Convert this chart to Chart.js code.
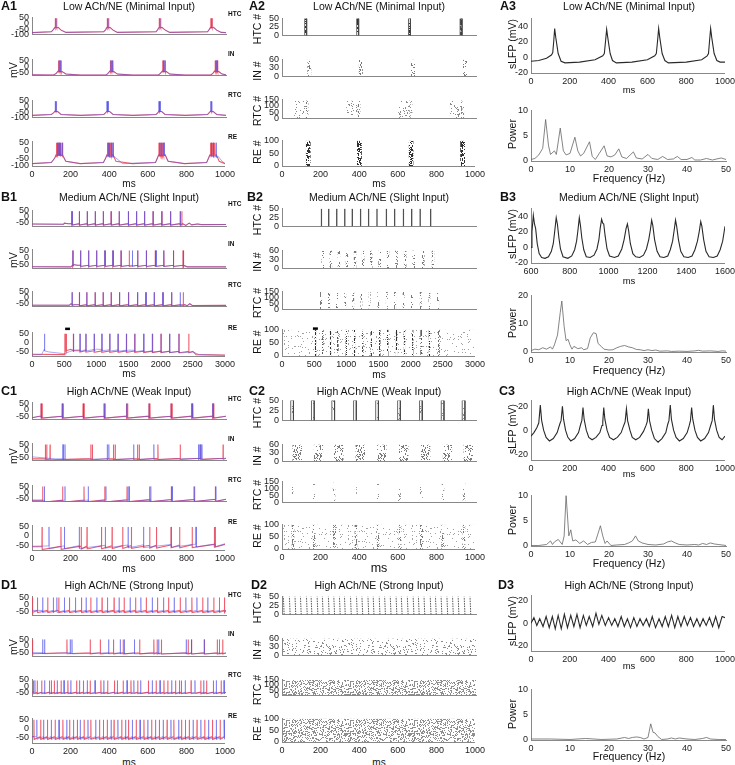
<!DOCTYPE html>
<html>
<head>
<meta charset="utf-8">
<script src="https://cdn.jsdelivr.net/npm/chart.js@4.4.1/dist/chart.umd.min.js"></script>
<style>
body { margin: 0; background: #fff; width: 735px; height: 765px; position: relative; overflow: hidden;
       font-family: "Liberation Sans", Arial, sans-serif; color: #111; }
canvas { position: absolute; }
.t { position: absolute; white-space: nowrap; transform: translate(-50%, -50%); }
.v { position: absolute; white-space: nowrap; transform: translate(-50%, -50%) rotate(-90deg); }
.p { position: absolute; white-space: nowrap; transform: translateY(-50%); font-weight: bold; font-size: 12.5px; }
.c { position: absolute; white-space: nowrap; transform: translateY(-50%); font-weight: bold; font-size: 6.5px; }
</style>
</head>
<body>
<script>
// ===== A: Low ACh/NE (Minimal Input) =====
const a1HtcBase = [[0,-82],[100,-74],[110,-55],[118,-35],[135,-35],[150,-60],[175,-80],[370,-74],[380,-55],[386,-35],[402,-35],[418,-60],[440,-80],[640,-74],[648,-55],[655,-35],[670,-35],[687,-60],[710,-80],[905,-74],[913,-55],[920,-35],[936,-35],[952,-60],[975,-80],[1000,-82]];
const a1HtcRed = [120, 127, 388, 395, 656, 663, 922, 929];
const a1HtcBlue = [123, 391, 659, 925];
const a1InBase = [[0,-66],[110,-68],[125,-55],[135,-35],[155,-40],[175,-60],[250,-68],[380,-68],[392,-55],[402,-35],[422,-40],[440,-60],[520,-68],[650,-68],[662,-55],[672,-35],[692,-40],[710,-60],[790,-68],[920,-68],[932,-55],[942,-35],[962,-40],[980,-60],[1000,-66]];
const a1InRed = [137, 143, 150, 404, 410, 417, 674, 680, 687, 944, 950, 957];
const a1InBlue = [140, 147, 407, 414, 677, 684, 947, 954];
const a1RtcBase = [[0,-80],[100,-72],[112,-55],[120,-40],[132,-45],[150,-72],[250,-80],[370,-72],[380,-55],[388,-40],[400,-45],[418,-72],[520,-80],[640,-72],[649,-55],[656,-40],[668,-45],[686,-72],[790,-80],[905,-72],[914,-55],[922,-40],[934,-45],[952,-72],[1000,-80]];
const a1RtcRed = [122, 389, 657, 924];
const a1RtcBlue = [120, 126, 386, 392, 654, 660, 921, 927];
const a1ReRedBase = [[0,-85],[100,-78],[118,-50],[125,-30],[160,-30],[175,-70],[250,-85],[370,-78],[382,-50],[388,-30],[420,-30],[435,-70],[520,-85],[640,-78],[650,-50],[656,-30],[690,-30],[705,-70],[790,-85],[905,-78],[915,-50],[922,-30],[955,-30],[970,-70],[1000,-85]];
const a1ReBlueBase = [[0,-85],[100,-78],[118,-50],[125,-30],[160,-30],[175,-70],[250,-85],[370,-78],[382,-50],[388,-30],[402,-40],[425,-40],[445,-60],[470,-85],[640,-78],[650,-50],[656,-30],[690,-30],[705,-70],[790,-85],[905,-78],[915,-50],[922,-30],[940,-40],[965,-40],[985,-70],[1000,-85]];
const a1ReRed = [127, 131, 135, 140, 145, 150, 156, 390, 394, 398, 403, 408, 414, 658, 662, 666, 671, 676, 682, 924, 928, 932, 937, 942, 948];
const a1ReBlue = [132, 140, 148, 158, 395, 402, 412, 420, 662, 672, 684, 930, 940, 955];

const a2HtcTimes = [122, 390, 657, 923];
const a2InTimes = [141, 406, 675, 943];
const a2RtcTimes = [100, 368, 636, 902];
const a2RtcCoreTimes = [126, 393, 660, 927];
const a2ReTimes = [136, 401, 669, 936];

const a3Lfp = [[0,-5],[40,-4],[80,-1],[105,3],[112,6],[117,20],[122,37],[128,25],[140,5],[155,-5],[175,-7],[250,-6],[330,-3],[370,2],[378,5],[384,20],[390,36],[396,25],[408,5],[420,-4],[440,-7],[520,-6],[600,-3],[638,2],[646,5],[652,20],[658,37],[664,25],[676,5],[690,-4],[708,-7],[800,-6],[880,-3],[908,2],[915,5],[920,20],[926,37],[932,25],[944,5],[958,-4],[975,-6],[1000,-6]];
const a3Power = [[0,0.3],[1,0.5],[2,1.2],[3,2.5],[3.75,8.2],[4.5,3],[5,1.3],[6,2],[6.5,1.3],[7.5,6.5],[8.3,2],[9,1.2],[10,1.5],[11.25,4.7],[12,2],[12.7,1],[13.5,1.5],[15,3.8],[15.7,0.9],[16.5,0.3],[17.5,1.5],[18.75,3],[19.5,1],[20.5,0.8],[21.5,1.2],[22.5,2.4],[23.3,0.8],[24.5,0.5],[26.25,1.8],[27,0.6],[28.5,0.4],[30,1.3],[31,0.5],[32.5,0.3],[33.75,0.9],[35,0.3],[36.5,0.4],[37.5,0.9],[38.5,0.3],[40,0.3],[41.25,0.7],[42,0.2],[43.5,0.2],[45,0.5],[46.5,0.2],[48.75,0.6],[50,0.3]];

// ===== B: Medium ACh/NE (Slight Input) =====
const b1HtcBase = [[0,-63],[490,-65],[500,-55],[560,-60],[2330,-60],[2380,-75],[2430,-55],[2470,-70],[2560,-62],[2620,-68],[3000,-67]];
const b1HtcRed = [616, 622, 730, 736, 852, 858, 976, 982, 1100, 1106, 1222, 1228, 1346, 1352, 1488, 1494, 1614, 1620, 1738, 1744, 1870, 1876, 2005, 2011, 2140, 2146, 2290, 2296, 2318];
const b1HtcBlue = [619, 733, 855, 979, 1103, 1225, 1349, 1491, 1617, 1741, 1873, 2008, 2143, 2293];
const b1InBase = [[0,-65],[600,-66],[640,-50],[700,-55],[2350,-55],[2400,-66],[3000,-66]];
const b1InRed = [630, 636, 749, 755, 873, 879, 997, 1003, 1126, 1132, 1250, 1256, 1375, 1381, 1505, 1632, 1638, 1766, 1772, 1906, 2035, 2041, 2185, 2191, 2334, 2340];
const b1InBlue = [632, 752, 876, 1000, 1129, 1253, 1378, 1548, 1558, 1635, 1769, 1912, 1918, 2038, 2188, 2337];
const b1RtcBase = [[0,-62],[580,-62],[600,-50],[650,-58],[2360,-58],[2400,-66],[2440,-50],[2480,-65],[3000,-64]];
const b1RtcRed = [620, 733, 847, 976, 1100, 1224, 1353, 1492, 1632, 1761, 1890, 2024, 2159, 2340];
const b1RtcBlue = [622, 735, 849, 978, 1102, 1226, 1355, 1494, 1634, 1763, 1892, 2026, 2161, 2293];
const b1ReRedBase = [[0,-68],[500,-70],[510,-40],[600,-40],[650,-48],[2500,-52],[2550,-70],[3000,-72]];
const b1ReBlueBase = [[0,-72],[150,-70],[190,-40],[260,-55],[500,-65],[650,-45],[1000,-40],[1500,-45],[2000,-50],[2500,-55],[2600,-70],[3000,-75]];
const b1ReRed = [512, 518, 524, 530, 538, 640, 744, 837, 966, 1084, 1208, 1337, 1467, 1596, 1735, 1870, 2004, 2138, 2283, 2438];
const b1ReBlue = [196, 645, 750, 840, 970, 1090, 1212, 1340, 1470, 1600, 1740, 1875, 2008, 2142, 2286];
const b1Marker = [[515, 75], [590, 75]];

const b2HtcTimes = [610, 724, 848, 972, 1086, 1216, 1340, 1469, 1614, 1743, 1878, 2007, 2136, 2300];
const b2InTimes = [630, 755, 880, 1005, 1130, 1255, 1380, 1510, 1640, 1770, 1905, 2035, 2185, 2335];
const b2RtcTimes = [605, 728, 852, 978, 1102, 1228, 1355, 1490, 1620, 1750, 1880, 2010, 2145, 2280, 2415];
const b2ReTimes = [522, 636, 755, 869, 998, 1128, 1257, 1386, 1521, 1645, 1779, 1903, 2033, 2162, 2291, 2440];
const b2Marker = [[481, 103], [558, 103]];

const b3Lfp = [[600,0],[605,20],[612,41],[618,30],[624,24],[632,5],[642,-8],[655,-13],[672,-14],[690,-12],[705,-5],[715,5],[722,20],[730,38],[736,30],[744,12],[752,-2],[765,-12],[790,-14],[810,-11],[825,-3],[835,8],[842,22],[849,38],[855,28],[862,12],[872,-3],[885,-12],[905,-13],[925,-10],[940,-2],[950,10],[957,25],[964,36],[970,31],[975,30],[982,15],[992,-2],[1005,-11],[1030,-13],[1050,-11],[1068,-2],[1080,10],[1090,24],[1097,30],[1103,22],[1112,5],[1125,-8],[1140,-12],[1160,-13],[1180,-10],[1195,-2],[1207,10],[1215,22],[1222,35],[1228,28],[1237,10],[1250,-5],[1265,-12],[1285,-13],[1305,-11],[1318,-3],[1330,8],[1338,22],[1345,35],[1351,27],[1360,10],[1372,-5],[1388,-12],[1410,-13],[1430,-11],[1445,-3],[1458,8],[1467,20],[1475,33],[1481,27],[1490,10],[1502,-5],[1518,-12],[1540,-13],[1560,-11],[1575,-3],[1588,8],[1600,27]];
const b3Power = [[0,0.5],[1,1],[2,0.8],[3,1.5],[4,1],[5,1.8],[5.5,1],[6,2.5],[6.8,6],[7.5,14],[7.9,18],[8.5,9],[9,4],[9.5,4.5],[10,2.5],[10.5,1],[11,2],[12,1.2],[13,1.5],[13.5,0.8],[14.5,1.2],[15.2,5],[16,6.8],[16.7,6.5],[17.2,3],[18,2],[18.7,1],[20,0.7],[21,0.8],[22,1.5],[23,2],[24,2.3],[25,1.8],[26,1.5],[27,0.9],[28,0.8],[29,0.5],[30,0.8],[31,0.5],[32,0.7],[33,0.3],[35,0.4],[36,0.2],[38,0.3],[40,0.2],[42,0.4],[43,0.6],[44,0.3],[46,0.4],[48,0.2],[49,0.4],[50,0.3]];

// ===== C: High ACh/NE (Weak Input) =====
const c1HtcBase = [[0,-58],[40,-47],[1000,-47]];
const c1HtcRed = [46, 52, 155, 161, 263, 269, 371, 377, 487, 493, 602, 608, 716, 722, 823, 829, 931, 937];
const c1HtcBlue = [48, 157, 265, 373, 489, 604, 718, 825, 933];
const c1InRedBase = [[0,-60],[1000,-55]];
const c1InBlueBase = [[0,-45],[120,-60],[1000,-56]];
const c1InRed = [69, 76, 93, 303, 311, 420, 429, 544, 553, 649, 764, 871, 985];
const c1InBlue = [160, 170, 388, 396, 524, 628, 858, 866, 876];
const c1RtcBase = [[0,-60],[1000,-52]];
const c1RtcRed = [55, 158, 268, 375, 490, 606, 718, 835, 945];
const c1RtcBlue = [64, 170, 290, 381, 500, 612, 722, 838, 948];
const c1ReRedBase = [[0,-58],[1000,-45]];
const c1ReBlueBase = [[0,-55],[1000,-42]];
const c1ReRed = [52, 150, 255, 285, 360, 415, 470, 515, 610, 645, 720, 765, 830, 945];
const c1ReBlue = [88, 168, 245, 380, 498, 578, 722, 850, 950];

const c2HtcTimes = [52, 159, 264, 376, 490, 603, 716, 828, 936];
const c2InTimes = [78, 188, 293, 403, 515, 628, 741, 853, 960];
const c2RtcTimes = [52, 162, 268, 378, 492, 605, 718, 830, 938];
const c2ReTimes = [57, 167, 272, 383, 498, 612, 723, 833, 943];

const c3Lfp = [[0,-5],[15,-2],[30,2],[40,6],[48,21],[55,8],[65,0],[78,-6],[95,-9],[115,-7],[135,-2],[148,5],[155,8],[162,20],[168,9],[178,0],[190,-6],[205,-9],[225,-7],[245,-2],[256,5],[262,8],[268,19],[274,9],[285,0],[298,-6],[315,-8],[335,-6],[355,-2],[366,4],[370,7],[375,19],[381,9],[392,0],[405,-6],[425,-8],[445,-6],[465,-2],[478,4],[485,7],[492,18],[498,8],[510,0],[522,-6],[540,-8],[560,-6],[580,-1],[593,4],[599,7],[605,18],[611,8],[622,0],[636,-7],[655,-10],[675,-7],[695,-2],[705,5],[711,8],[718,21],[724,9],[735,0],[748,-6],[765,-9],[785,-7],[805,-2],[816,4],[822,8],[828,19],[834,9],[845,0],[858,-6],[875,-9],[895,-7],[915,-2],[928,5],[934,8],[940,21],[946,9],[957,0],[970,-6],[985,-8],[1000,-5]];
const c3Power = [[0,0.1],[2,0.1],[4,0.3],[5,1],[5.5,0.3],[6,0.8],[7,1.3],[8,0.3],[8.5,2],[9,10],[9.7,2],[10.2,3.2],[10.7,1],[11.5,1.2],[12.5,0.5],[13.5,1],[14.5,0.3],[15.5,0.7],[16.5,0.8],[17.2,2.5],[17.8,4],[18.4,2],[19,0.5],[19.5,1],[20.5,0.1],[22,0.2],[24,0.3],[25,0.6],[26,1],[26.8,2],[27.5,1],[28.5,0.6],[30,0.3],[32,0.2],[34,0.4],[35,0.8],[36,1],[37,0.6],[38,0.3],[40,0.2],[42,0.3],[43,0.2],[44,0.5],[45,0.3],[46,0.6],[47,0.4],[48,0.3],[50,0.1]];

// ===== D: High ACh/NE (Strong Input) =====
const d1HtcBase = [[0,-45],[1000,-45]];
const d1HtcRed = [3, 28, 81, 138, 193, 255, 303, 361, 423, 475, 534, 589, 647, 704, 764, 824, 880, 937, 992];
const d1HtcBlue = [55, 110, 128, 167, 224, 279, 334, 389, 449, 506, 561, 620, 678, 733, 793, 850, 906, 966];
const d1InBase = [[0,-50],[1000,-52]];
const d1InRed = [3, 180, 300, 352, 420, 470, 555, 628, 645, 667, 805, 822, 888, 955, 983];
const d1InBlue = [55, 65, 197, 206, 395, 455, 476, 528, 653, 795, 822, 888, 966];
const d1RtcBase = [[0,-50],[1000,-50]];
const d1RtcRed = [7, 27, 50, 90, 115, 150, 185, 230, 265, 300, 355, 390, 425, 470, 510, 545, 600, 640, 680, 700, 740, 770, 820, 870, 900, 935, 975];
const d1RtcBlue = [15, 65, 100, 130, 165, 200, 245, 285, 325, 370, 440, 490, 525, 560, 620, 660, 720, 760, 790, 840, 885, 950, 990];
const d1ReBase = [[0,-45],[1000,-45]];
const d1ReRed = [10, 45, 80, 120, 160, 195, 235, 270, 305, 350, 390, 425, 465, 500, 540, 580, 620, 660, 700, 735, 775, 815, 855, 895, 935, 975];
const d1ReBlue = [25, 60, 100, 140, 180, 215, 250, 290, 330, 370, 410, 445, 485, 520, 560, 600, 640, 680, 720, 760, 795, 835, 875, 915, 955, 995];

const d2HtcTimes = [9, 40, 69, 97, 128, 152, 183, 210, 241, 269, 298, 324, 355, 386, 414, 445, 472, 503, 531, 560, 590, 617, 648, 678, 705, 734, 766, 793, 822, 852, 881, 910, 941, 971];

const d3Lfp = [[0,0],[15,5],[30,-2],[45,4],[62,-3],[78,6],[94,-4],[110,6],[125,-5],[140,7],[156,-5],[172,8],[188,-4],[205,7],[221,-3],[237,8],[253,-4],[270,7],[285,-2],[300,6],[318,-3],[335,9],[350,-1],[365,7],[383,-2],[400,5],[416,-2],[432,4],[448,-3],[465,6],[481,-3],[497,4],[513,-4],[530,5],[546,-3],[562,4],[578,-2],[595,4],[610,-3],[625,6],[642,-4],[660,4],[676,-3],[692,6],[708,-3],[725,7],[741,-4],[757,6],[773,-3],[790,6],[806,-2],[822,5],[838,-3],[855,4],[871,-3],[887,4],[903,-2],[920,5],[936,-3],[952,6],[968,-4],[985,6],[1000,5]];
const d3Power = [[0,0.2],[5,0.2],[10,0.1],[14,0.3],[18,0.1],[22,0.2],[24,0.5],[25,0.3],[26,0.5],[27,0.6],[28,0.5],[29,0.2],[30,0.5],[30.7,3.2],[31.3,1.5],[31.8,1.4],[32.5,0.7],[33.5,0.1],[35,0.2],[36,0.4],[37,0.2],[38,0.4],[40,0.2],[42,0.1],[44,0.3],[45,0.5],[46,0.2],[48,0.1],[50,0.1]];

// ----- drawing helpers -----
Chart.defaults.font.family = '"Liberation Sans", Arial, sans-serif';
Chart.defaults.font.size = 9;
Chart.defaults.color = '#222';

const RED = 'rgba(236,64,82,0.85)';
const BLUE = 'rgba(80,80,235,0.55)';
const PEAK = 47;
const PADL = 30, PADT = 6, PADR = 12;
const COLS = [[32, 226], [282, 476], [531, 726]];

// speckle texture for raster fills (styling only, fixed hash)
function dots(color, density, seed) {
  const n = 64;
  const c = document.createElement('canvas');
  c.width = n; c.height = n;
  const g = c.getContext('2d');
  g.fillStyle = color;
  for (let y = 0; y < n; y++) {
    for (let x = 0; x < n; x++) {
      let h = Math.imul(x + 1, 0x27d4eb2d) ^ Math.imul(y + 1 + seed * 131, 0x165667b1);
      h = Math.imul(h ^ (h >>> 15), 0x85ebca6b);
      h = Math.imul(h ^ (h >>> 13), 0xc2b2ae35);
      h ^= h >>> 16;
      if ((h >>> 0) / 4294967296 < density) g.fillRect(x, y, 1, 1);
    }
  }
  return g.createPattern(c, 'repeat');
}
const VSPARSE = dots('#a0a0a0', 0.06, 11);
const SPARSE = dots('#8c8c8c', 0.13, 5);
const MEDIUM = dots('#7a7a7a', 0.28, 7);
const NOISE = dots('#8e8e8e', 0.34, 9);
const DENSE = dots('#303030', 0.5, 3);
const HEAVY = 'rgba(50,50,50,0.85)';

function baseAt(base, t) {
  for (let i = 1; i < base.length; i++) {
    if (t <= base[i][0]) {
      const [x0, y0] = base[i - 1], [x1, y1] = base[i];
      return y0 + (y1 - y0) * (t - x0) / (x1 - x0);
    }
  }
  return base[base.length - 1][1];
}

function trace(base, spikes, ahp) {
  const pts = base.map(([x, y]) => ({x, y}));
  spikes.forEach(t => {
    const b = baseAt(base, t);
    pts.push({x: t - 0.5, y: b}, {x: t, y: PEAK}, {x: t + 1, y: b - ahp});
  });
  return pts.sort((p, q) => p.x - q.x);
}

function lineDs(pts, color, w) {
  return {data: pts.map(p => Array.isArray(p) ? {x: p[0], y: p[1]} : p),
          borderColor: color, borderWidth: w || 0.9, pointRadius: 0, fill: false, tension: 0};
}

function pair(redBase, redSp, blueBase, blueSp, ahp) {
  return [lineDs(trace(blueBase, blueSp, ahp), BLUE, 0.9), lineDs(trace(redBase, redSp, ahp), RED, 1.1)];
}

function bandDs(times, width, top, fill, edge) {
  return times.map(t => ({
    data: [{x: t - width / 2, y: 0}, {x: t - width / 2, y: top}, {x: t + width / 2, y: top}, {x: t + width / 2, y: 0}],
    fill: 'origin', backgroundColor: fill, pointRadius: 0,
    borderColor: edge || 'rgba(0,0,0,0)', borderWidth: edge ? 0.8 : 0
  }));
}

function marker(pts) {
  const d = lineDs(pts, '#000', 2.5);
  d.clip = false;
  return d;
}

function plot(col, tb, xr, yr, xt, yt, showX, datasets) {
  const [l, r] = COLS[col];
  const xh = showX ? 13 : 1;
  const w = Math.round(r - l) + PADL + PADR;
  const h = Math.round(tb[1] - tb[0]) + PADT + xh;
  const c = document.createElement('canvas');
  c.width = w; c.height = h;
  c.style.left = (Math.round(l) - PADL) + 'px';
  c.style.top = (Math.round(tb[0]) - PADT) + 'px';
  c.style.width = w + 'px'; c.style.height = h + 'px';
  document.body.appendChild(c);
  new Chart(c, {
    type: 'line',
    data: {datasets},
    options: {
      responsive: false, animation: false, events: [],
      layout: {padding: {top: PADT, right: PADR, left: 0, bottom: 0}},
      plugins: {legend: {display: false}, tooltip: {enabled: false}},
      scales: {
        x: {type: 'linear', min: xr[0], max: xr[1],
            afterFit: s => { s.height = xh; },
            afterBuildTicks: s => { s.ticks = xt.map(v => ({value: v})); },
            grid: {display: false, drawTicks: false},
            border: {color: '#888'},
            ticks: {display: showX, padding: 3, maxRotation: 0, autoSkip: false, callback: v => String(v)}},
        y: {type: 'linear', min: yr[0], max: yr[1],
            afterFit: s => { s.width = PADL; },
            afterBuildTicks: s => { s.ticks = yt.map(v => ({value: v})); },
            grid: {display: false, drawTicks: false},
            border: {color: '#888'},
            ticks: {padding: 3, autoSkip: false, callback: v => String(v)}}
      }
    }
  });
}

function txt(s, x, y, cls, css) {
  const d = document.createElement('div');
  d.className = cls;
  d.textContent = s;
  d.style.left = x + 'px';
  d.style.top = y + 'px';
  if (css) d.style.cssText += css;
  document.body.appendChild(d);
}

// ----- layout: plot-area top/bottom for each subplot -----
const rowsC1 = {
  A: [[14.8, 42.3], [56.5, 82.4], [98, 125.3], [139.1, 166.3]],
  B: [[208.1, 233.7], [247.2, 275.7], [288.7, 313.6], [330, 355.7]],
  C: [[399.6, 427], [440.6, 467.7], [483.3, 509.3], [523.3, 550.3]],
  D: [[594, 622.8], [635.7, 663.3], [676.7, 704], [716.3, 743.3]]
};
const rowsC2 = {
  A: [[15.7, 43], [57, 84], [96.7, 125.3], [137.7, 166]],
  B: [[205.7, 233.7], [247.7, 275.7], [289, 317], [327.3, 356.7]],
  C: [[398.3, 428.3], [442.3, 469], [479.3, 510.3], [522.3, 549.3]],
  D: [[594.3, 622], [636, 663.3], [677.3, 703.3], [715.7, 742]]
};
const rowsC3 = {
  A: [[15.5, 72.7], [107.7, 161]],
  B: [[206.2, 262.7], [293.3, 352.7]],
  C: [[398.1, 460.2], [493.3, 546.7]],
  D: [[592.5, 650], [687.3, 740]]
};

const T1000 = [0, 200, 400, 600, 800, 1000];
const T3000 = [0, 500, 1000, 1500, 2000, 2500, 3000];
const TF = [0, 10, 20, 30, 40, 50];
const V3 = [-50, 0, 50];
const V4 = [-100, -50, 0, 50];

// ----- column 1: membrane potentials -----
function traceCol(key, xr, xt, ranges, ticks, sets) {
  sets.forEach((ds, i) => plot(0, rowsC1[key][i], xr, ranges[i], xt, ticks[i], i === 3, ds));
}
traceCol('A', [0, 1000], T1000, [[-100, 55], [-72, 55], [-100, 55], [-100, 55]], [V4, V3, V4, V4], [
  pair(a1HtcBase, a1HtcRed, a1HtcBase, a1HtcBlue, 5),
  pair(a1InBase, a1InRed, a1InBase, a1InBlue, 5),
  pair(a1RtcBase, a1RtcRed, a1RtcBase, a1RtcBlue, 5),
  pair(a1ReRedBase, a1ReRed, a1ReBlueBase, a1ReBlue, 5)
]);
traceCol('B', [0, 3000], T3000, [[-85, 55], [-78, 55], [-74, 55], [-78, 55]], [V3, V3, V3, V3], [
  pair(b1HtcBase, b1HtcRed, b1HtcBase, b1HtcBlue, 12),
  pair(b1InBase, b1InRed, b1InBase, b1InBlue, 8),
  pair(b1RtcBase, b1RtcRed, b1RtcBase, b1RtcBlue, 10),
  pair(b1ReRedBase, b1ReRed, b1ReBlueBase, b1ReBlue, 8).concat([marker(b1Marker)])
]);
traceCol('C', [0, 1000], T1000, [[-72, 55], [-73, 55], [-70, 55], [-75, 55]], [V3, V3, V3, V3], [
  pair(c1HtcBase, c1HtcRed, c1HtcBase, c1HtcBlue, 14),
  pair(c1InRedBase, c1InRed, c1InBlueBase, c1InBlue, 8),
  pair(c1RtcBase, c1RtcRed, c1RtcBase, c1RtcBlue, 16),
  pair(c1ReRedBase, c1ReRed, c1ReBlueBase, c1ReBlue, 15)
]);
traceCol('D', [0, 1000], T1000, [[-82, 55], [-79, 55], [-86, 55], [-80, 55]], [V3, V3, V3, V3], [
  pair(d1HtcBase, d1HtcRed, d1HtcBase, d1HtcBlue, 15),
  pair(d1InBase, d1InRed, d1InBase, d1InBlue, 8),
  pair(d1RtcBase, d1RtcRed, d1RtcBase, d1RtcBlue, 12),
  pair(d1ReBase, d1ReRed, d1ReBase, d1ReBlue, 15)
]);

// ----- column 2: rasters -----
const RR = [[0, 50], [0, 60], [0, 150], [0, 100]];
const RT = [[0, 25, 50], [0, 30, 60], [0, 50, 100, 150], [0, 50, 100]];
function rasterCol(key, xr, xt, sets) {
  sets.forEach((ds, i) => plot(1, rowsC2[key][i], xr, RR[i], xt, RT[i], i === 3, ds));
}
rasterCol('A', [0, 1000], T1000, [
  bandDs(a2HtcTimes, 10, 50, DENSE, '#444'),
  bandDs(a2InTimes, 22, 60, MEDIUM),
  bandDs(a2RtcTimes, 75, 140, SPARSE).concat(bandDs(a2RtcCoreTimes, 8, 140, MEDIUM)),
  bandDs(a2ReTimes, 26, 100, DENSE)
]);
rasterCol('B', [0, 3000], T3000, [
  bandDs(b2HtcTimes, 25, 50, HEAVY),
  bandDs(b2InTimes, 45, 62, MEDIUM),
  bandDs(b2RtcTimes, 35, 145, MEDIUM),
  bandDs([1500], 3000, 100, VSPARSE).concat(bandDs(b2ReTimes, 25, 100, DENSE), [marker(b2Marker)])
]);
rasterCol('C', [0, 1000], T1000, [
  bandDs(c2HtcTimes, 14, 50, SPARSE, '#444'),
  bandDs(c2InTimes, 50, 62, MEDIUM),
  bandDs(c2RtcTimes, 16, 140, SPARSE),
  bandDs([500], 1000, 100, VSPARSE).concat(bandDs(c2ReTimes, 16, 100, MEDIUM))
]);
const d2Stripes = {
  data: d2HtcTimes.flatMap(t => [{x: t + 2, y: 0}, {x: t - 2, y: 50}, {x: t, y: null}]),
  borderColor: '#555', borderWidth: 1, borderDash: [1.5, 1], pointRadius: 0, spanGaps: false, fill: false
};
rasterCol('D', [0, 1000], T1000, [
  [d2Stripes],
  bandDs([500], 1000, 62, SPARSE),
  bandDs([500], 1000, 145, NOISE),
  bandDs([500], 1000, 100, NOISE)
]);

// ----- column 3: sLFP and power spectra -----
const lfpX = {A: [0, 1000], B: [600, 1600], C: [0, 1000], D: [0, 1000]};
const lfpXt = {A: T1000, B: [600, 800, 1000, 1200, 1400, 1600], C: T1000, D: T1000};
const lfpY = {A: [-20, 50], B: [-20, 50], C: [-25, 25], D: [-25, 25]};
const lfpYt = {A: [-20, 0, 20, 40], B: [-20, 0, 20, 40], C: [-20, 0, 20], D: [-20, 0, 20]};
const powY = {A: [0, 10], B: [0, 20], C: [0, 10], D: [0, 10]};
const powYt = {A: [0, 5, 10], B: [0, 10, 20], C: [0, 5, 10], D: [0, 5, 10]};
const lfpData = {A: a3Lfp, B: b3Lfp, C: c3Lfp, D: d3Lfp};
const powData = {A: a3Power, B: b3Power, C: c3Power, D: d3Power};
['A', 'B', 'C', 'D'].forEach(k => {
  plot(2, rowsC3[k][0], lfpX[k], lfpY[k], lfpXt[k], lfpYt[k], true, [lineDs(lfpData[k], '#2a2a2a', 1.1)]);
  plot(2, rowsC3[k][1], [0, 50], powY[k], TF, powYt[k], true, [lineDs(powData[k], '#666', 0.8)]);
});

// ----- text -----
const titles = {A: 'Low ACh/NE (Minimal Input)', B: 'Medium ACh/NE (Slight Input)', C: 'High ACh/NE (Weak Input)', D: 'High ACh/NE (Strong Input)'};
const titleY = {A: 6, B: 197, C: 391, D: 585};
const labelX = {A: [1, 249, 500], B: [1, 247, 500], C: [1, 249, 499], D: [1, 251, 498]};
['A', 'B', 'C', 'D'].forEach(k => {
  [129, 379, 629].forEach((x, i) => {
    txt(titles[k], x, titleY[k], 't', 'font-size:10.5px');
    txt(k + (i + 1), labelX[k][i], titleY[k], 'p');
  });
});

const msY1 = {A: 183, B: 372.7, C: 568.3, D: 761.7};
const msY2 = {A: 183, B: 374, C: 568, D: 761.7};
const mvY = {A: 70, B: 260, C: 456, D: 647};
const cellY = {A: [13, 53, 94, 136], B: [203, 243, 284, 327], C: [398, 438, 479, 521], D: [594, 633, 674, 715]};
const cellNames = ['HTC', 'IN', 'RTC', 'RE'];
const lfpMsY = {A: 89, B: 280, C: 473, D: 665};
const freqY = {A: 178, B: 370, C: 562.7, D: 755.7};
['A', 'B', 'C', 'D'].forEach(k => {
  txt('ms', 129, msY1[k], 't', 'font-size:10px');
  txt('ms', 379, msY2[k], 't', k === 'C' ? 'font-size:12.5px' : 'font-size:10px');
  txt('mV', 13, mvY[k], 'v', 'font-size:10.5px');
  cellNames.forEach((n, i) => {
    txt(n, 228, cellY[k][i], 'c');
    const b = rowsC2[k][i];
    txt(n + ' #', 256.5, (b[0] + b[1]) / 2, 'v', 'font-size:10.5px');
  });
  txt('ms', 629, lfpMsY[k], 't', 'font-size:9.5px');
  txt('Frequency (Hz)', 629, freqY[k], 't', 'font-size:10.5px');
  const l = rowsC3[k][0], p = rowsC3[k][1];
  txt('sLFP (mV)', 512, (l[0] + l[1]) / 2, 'v', 'font-size:10.5px');
  txt('Power', 512, (p[0] + p[1]) / 2, 'v', 'font-size:10.5px');
});
</script>
</body>
</html>
